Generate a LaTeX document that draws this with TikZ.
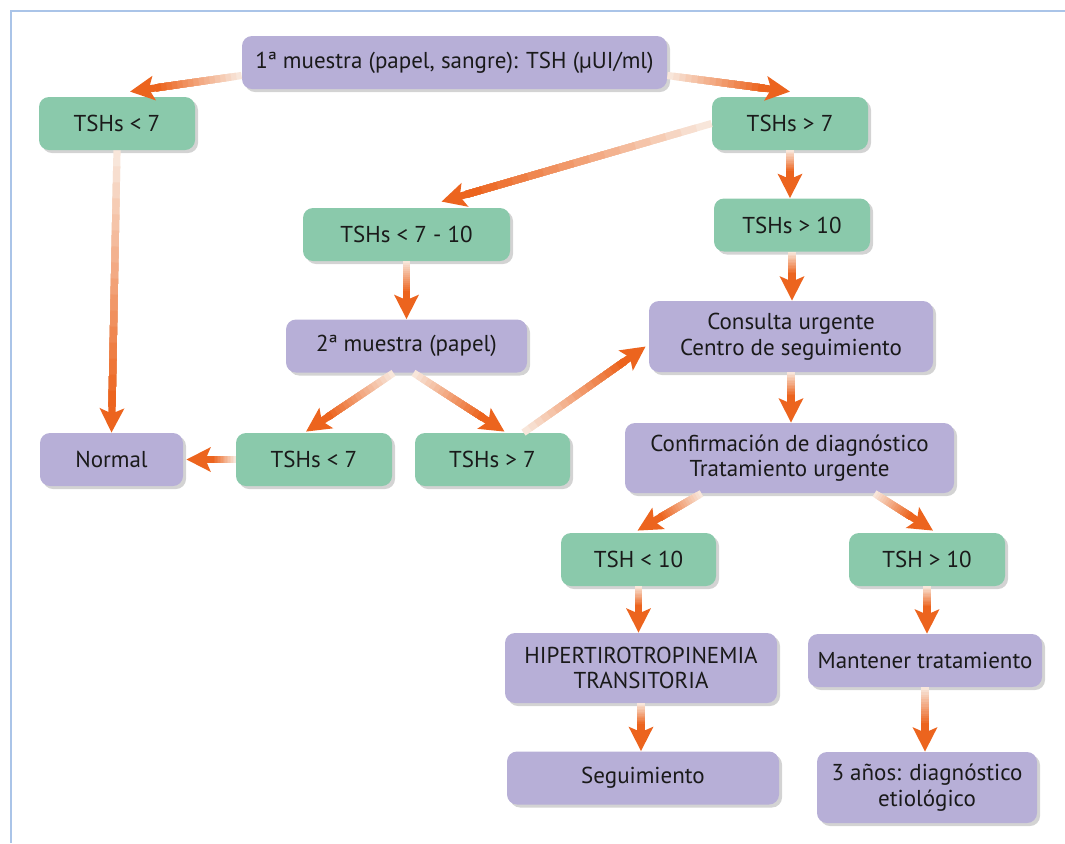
\documentclass[tikz,border=0pt]{standalone}
\usepackage{fontspec}
\setmainfont{PT Sans}
\usepackage{xcolor}
\usetikzlibrary{arrows.meta, calc, shadows}

\definecolor{verde}{RGB}{138,201,171}
\definecolor{lila}{RGB}{183,175,215}
\definecolor{naranja}{RGB}{236,100,30}
\definecolor{palido}{RGB}{248,230,218}
\definecolor{marco}{RGB}{170,196,232}
\definecolor{texto}{RGB}{26,26,26}

% flecha con degradado: de #1 (claro) a #2 (oscuro)
\newcommand{\flecha}[2]{%
  \path #1 coordinate (fa) #2 coordinate (fb);
  \coordinate (fp) at ($(fb)!13pt!(fa)$);
  \foreach \k in {0,...,15}{
    \pgfmathtruncatemacro{\mezcla}{6.67*\k}
    \draw[line width=3.6pt, naranja!\mezcla!palido] ($(fa)!\k/16!(fp)$) -- (fp);
  }
  \draw[line width=3.6pt, naranja, -{Stealth[length=12pt,width=12pt,inset=2.5pt]}] (fp) -- (fb);
}

\begin{document}
\begin{tikzpicture}[
  x=0.5pt, y=-0.5pt,
  font=\fontsize{11.5}{12.8}\selectfont, text=texto,
  caja/.style={rectangle, rounded corners=5pt, align=center, inner sep=0pt, minimum height=26.5pt,
    drop shadow={opacity=0.35, shadow xshift=1.5pt, shadow yshift=-1.5pt}},
  cond/.style={caja, fill=verde},
  paso/.style={caja, fill=lila}
]
  \useasboundingbox (0,0) rectangle (1065,843);
  \draw[marco, line width=0.6pt] (1065,11) -- (11,11) -- (11,843);

  \node [paso, minimum width=212.5pt] (muestra1) at (454.5,62.5) {1ª muestra (papel, sangre): TSH (µUI/ml)};
  \node [cond, minimum width=78pt] (menor7) at (117,123.5) {TSHs < 7};
  \node [cond, minimum width=78pt] (mayor7) at (790,123.5) {TSHs > 7};
  \node [cond, minimum width=103.5pt] (entre) at (406.5,234.5) {TSHs < 7 - 10};
  \node [cond, minimum width=78pt] (mayor10) at (792,225) {TSHs > 10};
  \node [paso, minimum width=120.5pt] (muestra2) at (406.5,346) {2ª muestra (papel)};
  \node [paso, minimum width=142pt, minimum height=35.5pt] (consulta) at (791,336.5) {Consulta urgente\\Centro de seguimiento};
  \node [paso, minimum width=71.5pt] (normal) at (111.5,459.5) {Normal};
  \node [cond, minimum width=78pt] (bajo2) at (314,459.5) {TSHs < 7};
  \node [cond, minimum width=77.5pt] (alto2) at (492.5,459.5) {TSHs > 7};
  \node [paso, minimum width=164.5pt, minimum height=35pt] (confirma) at (789.5,458) {Confirmación de diagnóstico\\Tratamiento urgente};
  \node [cond, minimum width=77.5pt] (tshbajo) at (638.5,559.5) {TSH < 10};
  \node [cond, minimum width=78pt] (tshalto) at (927,559.5) {TSH > 10};
  \node [paso, minimum width=136pt, minimum height=35pt] (hiper) at (641,668) {HIPERTIROTROPINEMIA\\TRANSITORIA};
  \node [paso, minimum width=117pt] (mantener) at (925,660.5) {Mantener tratamiento};
  \node [paso, minimum width=136pt] (seguim) at (643,778) {Seguimiento};
  \node [paso, minimum width=110pt, minimum height=35.5pt] (tres) at (927,787.5) {3 años: diagnóstico\\etiológico};

  \flecha{($(muestra1.west)+(0,13)$)}{($(menor7.north)+(13,-5)$)}
  \flecha{($(muestra1.east)+(0,13)$)}{($(mayor7.north)+(0,-5)$)}
  \flecha{(mayor7.west)}{($(entre.north)+(35,-6)$)}
  \flecha{(menor7.south)}{(normal.north)}
  \flecha{(mayor7.south)}{(mayor7.south |- mayor10.north)}
  \flecha{(mayor10.south)}{(mayor10.south |- consulta.north)}
  \flecha{(entre.south)}{(entre.south |- muestra2.north)}
  \flecha{($(muestra2.south)+(-13,0)$)}{($(bajo2.north)+(-8,-1)$)}
  \flecha{($(muestra2.south)+(7,0)$)}{($(alto2.north)+(12,-1)$)}
  \flecha{($(alto2.north)+(31,0)$)}{($(consulta.west)+(-3,10)$)}
  \flecha{(bajo2.west)}{($(normal.east)+(3,0)$)}
  \flecha{(consulta.south)}{(consulta.south |- confirma.north)}
  \flecha{($(confirma.south)+(-88,0)$)}{($(tshbajo.north)+(-1,-2)$)}
  \flecha{($(confirma.south)+(85,0)$)}{($(tshalto.north)+(6,-2)$)}
  \flecha{(tshbajo.south)}{(tshbajo.south |- hiper.north)}
  \flecha{(tshalto.south)}{(tshalto.south |- mantener.north)}
  \flecha{(hiper.south)}{(hiper.south |- seguim.north)}
  \flecha{(mantener.south)}{(mantener.south |- tres.north)}
\end{tikzpicture}
\end{document}
